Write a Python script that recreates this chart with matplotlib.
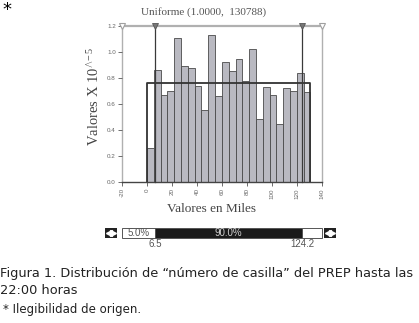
import matplotlib
matplotlib.use("Agg")
import matplotlib.pyplot as plt
import numpy as np
from matplotlib.patches import Rectangle

W, H = 419, 323

# distribution fitted (title) and histogram
DIST_LOW = 1
DIST_HIGH = 130788
BAR_HEIGHTS = [0.26, 0.86, 0.67, 0.70, 1.11, 0.895, 0.88, 0.74, 0.555, 1.13, 0.66, 0.92,
               0.854, 0.946, 0.777, 1.023, 0.487, 0.73, 0.67, 0.446, 0.72, 0.70, 0.84, 0.69]
LEFT_CUT = 6.5
RIGHT_CUT = 124.2
SLIDER_PCT = ["5.0%", "90.0%", ""]
X_TICKS = [-20, 0, 20, 40, 60, 80, 100, 120, 140]
Y_TICKS = [0.0, 0.2, 0.4, 0.6, 0.8, 1.0, 1.2]

SERIF = "Liberation Serif"
SANS = "Liberation Sans"

plt.rcParams["mathtext.fontset"] = "custom"
plt.rcParams["mathtext.rm"] = SERIF
plt.rcParams["mathtext.it"] = SERIF


def box(x0, y0, x1, y1):
    # pixel box (top-left origin) -> figure fraction rect
    return [x0 / W, 1 - y1 / H, (x1 - x0) / W, (y1 - y0) / H]


def fx(x):
    return x / W


def fy(y):
    return 1 - y / H


fig = plt.figure(figsize=(W / 100, H / 100), dpi=100)
fig.patch.set_facecolor("white")

# main histogram
ax = fig.add_axes(box(122, 26, 322, 182))
ax.set_xlim(-20, 140)
ax.set_ylim(0, 1.2)
for s in ax.spines.values():
    s.set_visible(False)

n = len(BAR_HEIGHTS)
lo, hi = DIST_LOW / 1000, DIST_HIGH / 1000
edges = np.linspace(lo, hi, n + 1)
ax.bar(edges[:-1], BAR_HEIGHTS, width=np.diff(edges), align="edge",
       color="#b9b9c1", edgecolor="#4a4a4a", linewidth=0.6, zorder=2)

dens = 1e5 / (DIST_HIGH - DIST_LOW)
ax.plot([lo, lo, hi, hi], [0, dens, dens, 0], color="#333333", lw=1.3, zorder=3)

# frame lines and cut markers
ax.plot([-20, 140], [0, 0], color="#444444", lw=1.0, zorder=3, clip_on=False)
ax.plot([-20, 140], [1.2, 1.2], color="#b0b0b0", lw=1.6, zorder=1, clip_on=False)
for xv in (-20, 140):
    ax.plot([xv, xv], [0, 1.2], color="#b0b0b0", lw=1.0, zorder=1, clip_on=False)
    ax.plot(xv, 1.2, marker="v", ms=4.5, mfc="white", mec="#a0a0a0", mew=0.8,
            clip_on=False, zorder=4)
for xv in (LEFT_CUT, RIGHT_CUT):
    ax.plot([xv, xv], [0, 1.2], color="#3a3a3a", lw=0.9, zorder=4, clip_on=False)
    ax.plot(xv, 1.2, marker="v", ms=4.5, mfc="#777777", mec="#555555", mew=0.6,
            clip_on=False, zorder=5)

ax.set_xticks(X_TICKS)
ax.set_xticklabels([str(v) for v in X_TICKS], rotation=90, fontsize=4.5,
                   color="#666666", family=SANS)
ax.set_yticks(Y_TICKS)
ax.set_yticklabels([f"{v:.1f}" for v in Y_TICKS], fontsize=4.5, color="#666666",
                   family=SANS)
ax.tick_params(axis="both", length=3, width=0.6, color="#555555", pad=1.5)
ax.patch.set_visible(False)

fig.text(fx(204), fy(12), "Uniforme (1.0000,  130788)", family=SERIF, fontsize=8,
         color="#555555", ha="center", va="center")
fig.text(fx(94), fy(96), r"Valores X 10$^{\wedge\!-5}$", family=SERIF, fontsize=10.5,
         color="#444444", rotation=90, ha="center", va="center")
fig.text(fx(211), fy(209), "Valores en Miles", family=SERIF, fontsize=9.5,
         color="#444444", ha="center", va="center")

# slider below the chart
sx = fig.add_axes(box(122, 227.5, 322, 238))
sx.set_xlim(-20, 140)
sx.set_ylim(0, 1)
sx.axis("off")
seg_edges = [-20, LEFT_CUT, RIGHT_CUT, 140]
seg_face = ["white", "#1a1a1a", "white"]
seg_text = ["#555555", "#d0d0d0", "#555555"]
for i in range(3):
    sx.add_patch(Rectangle((seg_edges[i], 0), seg_edges[i + 1] - seg_edges[i], 1,
                           facecolor=seg_face[i], edgecolor="#555555", lw=0.7,
                           clip_on=False))
    if SLIDER_PCT[i]:
        sx.text((seg_edges[i] + seg_edges[i + 1]) / 2, 0.5, SLIDER_PCT[i],
                ha="center", va="center", fontsize=7, color=seg_text[i], family=SANS)
for xv in (LEFT_CUT, RIGHT_CUT):
    sx.text(xv, -0.55, f"{xv:.1f}", ha="center", va="center", fontsize=7,
            color="#555555", family=SANS)

# arrow buttons at both ends
for x0 in (105, 324):
    bx = fig.add_axes(box(x0, 227.5, x0 + 12, 238))
    bx.set_xlim(0, 1)
    bx.set_ylim(0, 1)
    bx.axis("off")
    bx.add_patch(Rectangle((0, 0), 1, 1, facecolor="#222222", edgecolor="#222222"))
    bx.plot(0.32, 0.5, marker="<", ms=4, color="white")
    bx.plot(0.68, 0.5, marker=">", ms=4, color="white")

# captions
fig.text(fx(2), fy(1), "*", fontsize=13, color="black", ha="left", va="top",
         family="DejaVu Sans")
fig.text(fx(0), fy(274), "Figura 1. Distribución de \u201cnúmero de casilla\u201d del PREP hasta las",
         fontsize=9.3, color="#222222", family="DejaVu Sans", ha="left", va="center")
fig.text(fx(0), fy(290), "22:00 horas", fontsize=9.3, color="#222222",
         family="DejaVu Sans", ha="left", va="center")
fig.text(fx(3), fy(310), "* Ilegibilidad de origen.", fontsize=8.5, color="#222222",
         family="DejaVu Sans", ha="left", va="center")

fig.savefig("out.png", dpi=100)
